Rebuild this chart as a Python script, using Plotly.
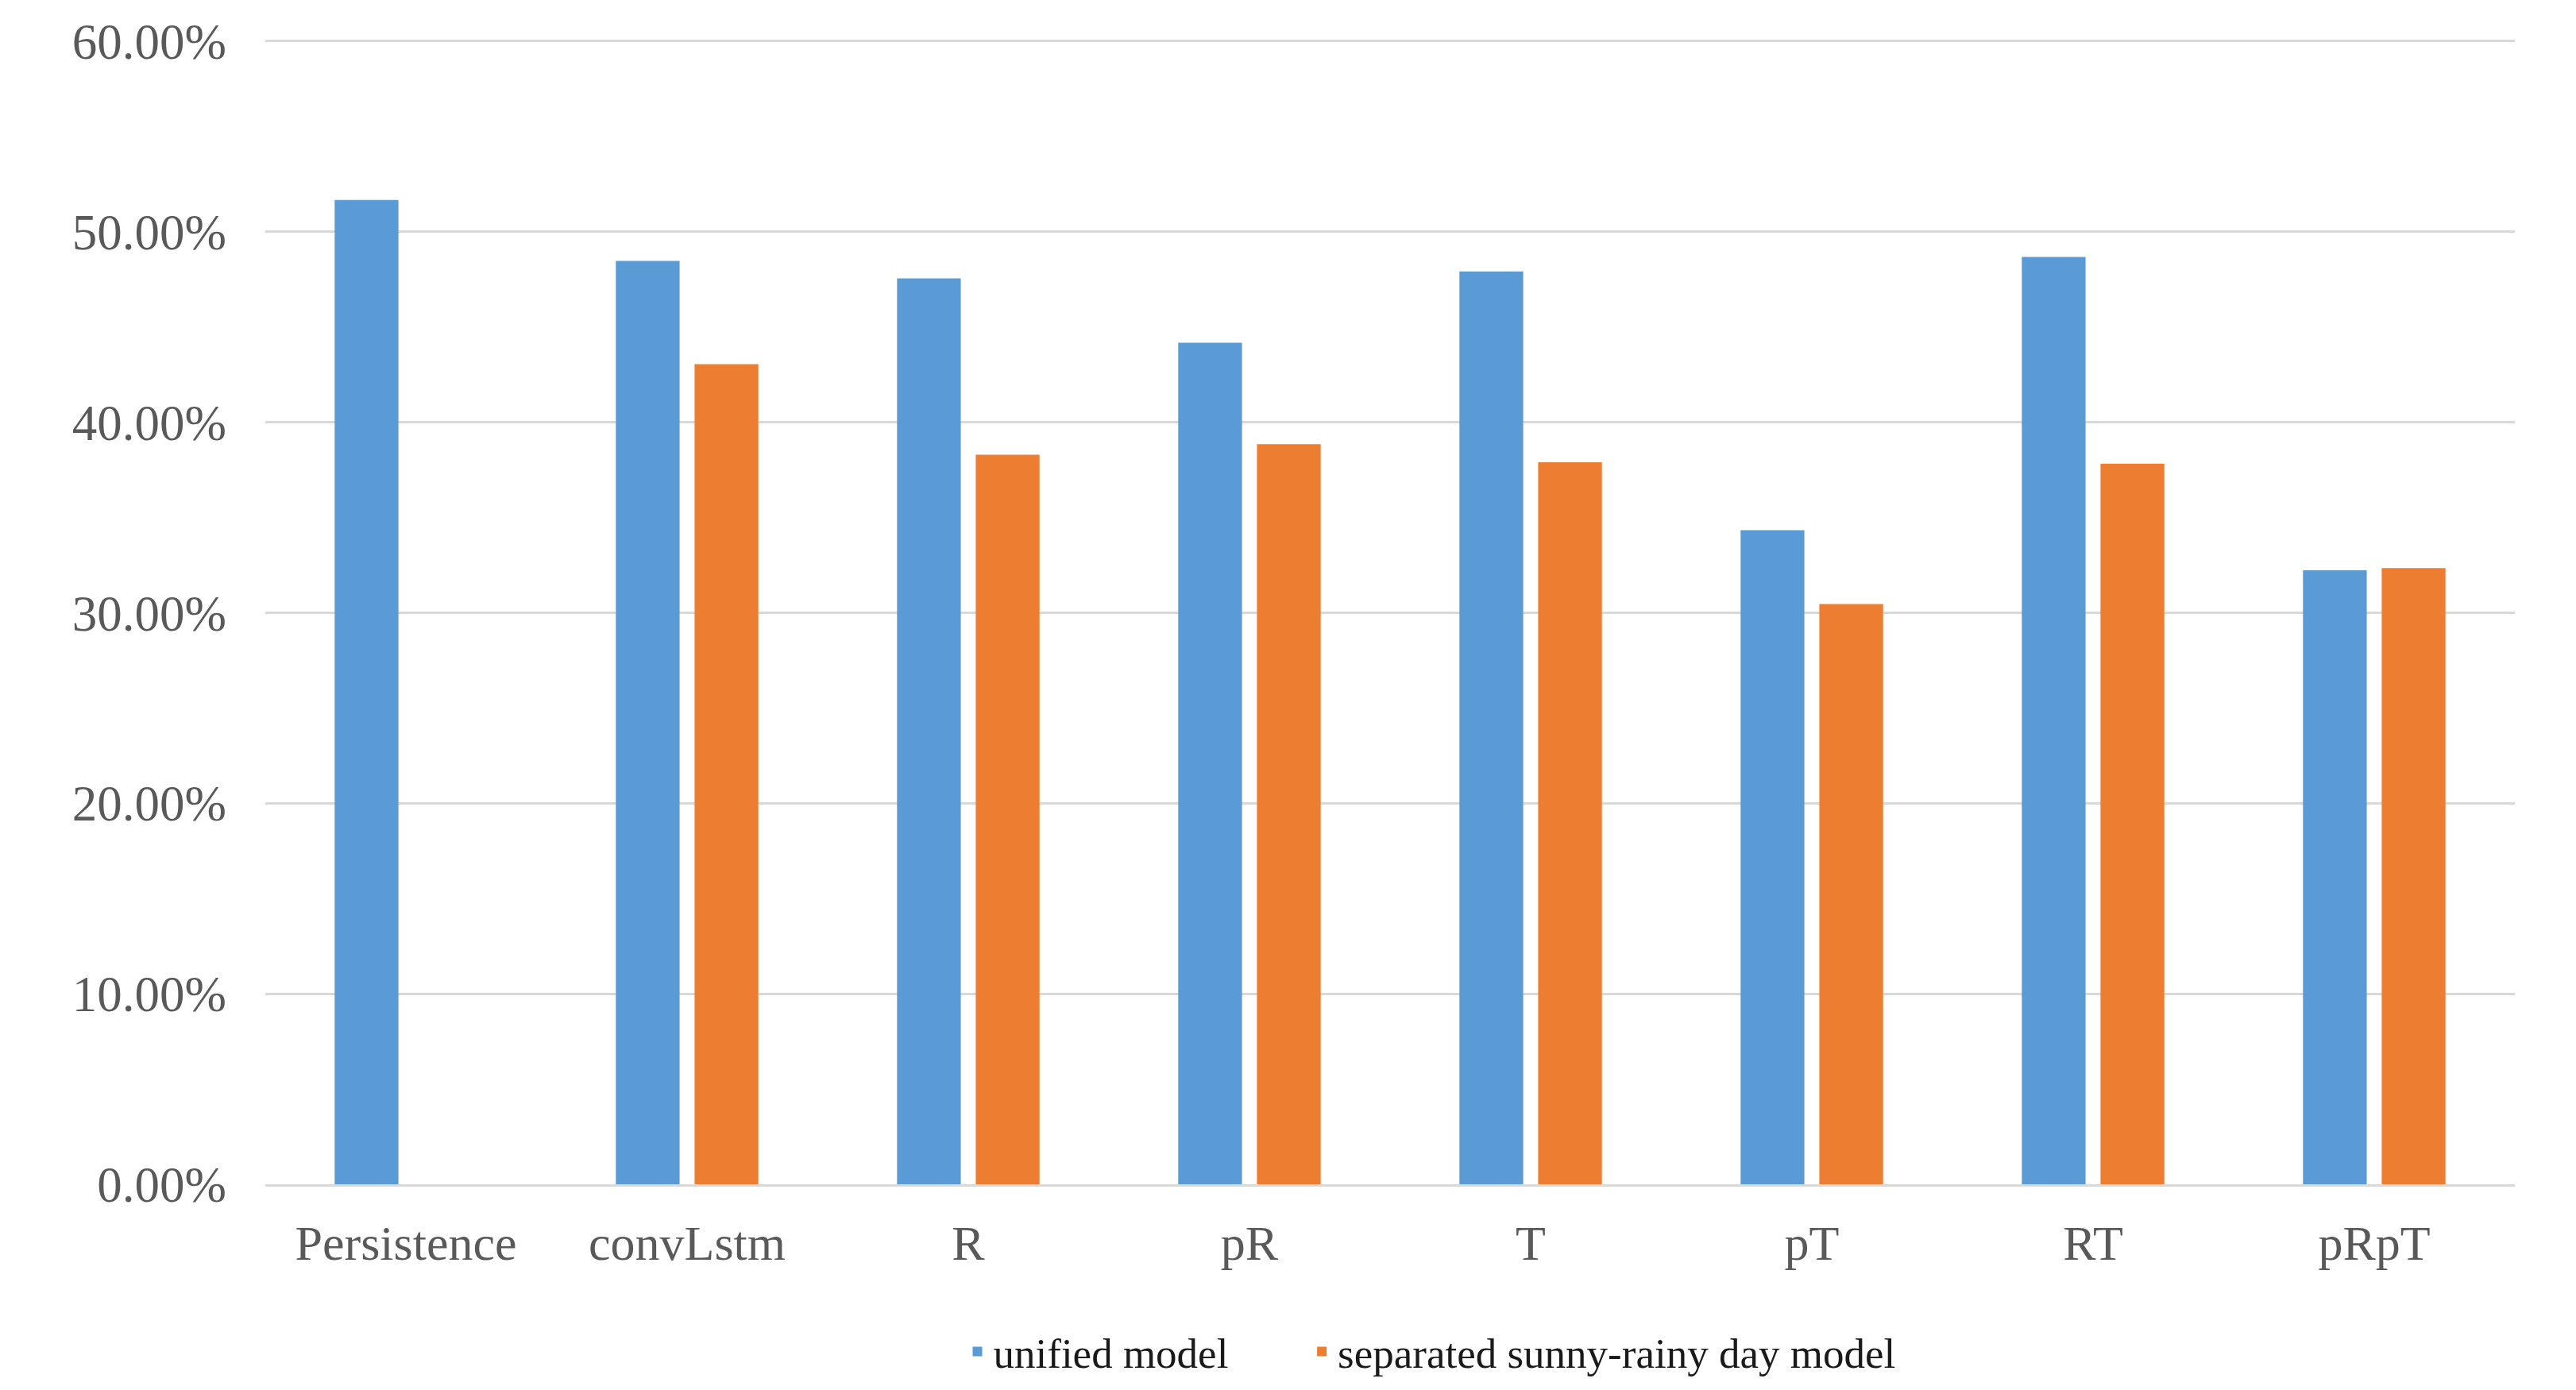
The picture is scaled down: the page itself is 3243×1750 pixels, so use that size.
import plotly.graph_objects as go

categories = ["Persistence", "convLstm", "R", "pR", "T", "pT", "RT", "pRpT"]
unified = [0.5167, 0.4847, 0.4755, 0.4417, 0.4791, 0.3433, 0.4868, 0.3223]
separated = [None, 0.4305, 0.3829, 0.3885, 0.3790, 0.3046, 0.3782, 0.3234]
series_names = ["unified model", "separated sunny-rainy day model"]
y_ticks = [0, 0.1, 0.2, 0.3, 0.4, 0.5, 0.6]

FONT = "Liberation Serif"
PAD = "\u00a0" * 7  # extra spacing between legend entries

fig = go.Figure()
fig.add_trace(go.Bar(x=categories, y=unified, name=series_names[0] + PAD,
                     marker=dict(color="#5B9BD5", line=dict(width=0))))
fig.add_trace(go.Bar(x=categories, y=separated, name=series_names[1],
                     marker=dict(color="#ED7D31", line=dict(width=0))))

fig.update_layout(
    width=3243, height=1750,
    paper_bgcolor="white", plot_bgcolor="white",
    margin=dict(l=326, r=85, t=41, b=267, autoexpand=False),
    barmode="group", bargap=0.44, bargroupgap=0.19,
    font=dict(family=FONT, size=62, color="#595959"),
    showlegend=True,
    legend=dict(orientation="h", x=0.3095, xanchor="left", y=-0.146, yanchor="middle",
                font=dict(family=FONT, size=53, color="#1a1a1a"),
                itemwidth=30),
    xaxis=dict(showgrid=False, showline=True, linecolor="#d9d9d9", linewidth=3,
               ticks="", tickfont=dict(size=62, color="#595959"), ticklabelstandoff=18),
    yaxis=dict(range=[0, 0.6012], tickvals=y_ticks, tickformat=".2%",
               showgrid=True, gridcolor="#d9d9d9", gridwidth=3,
               zeroline=False, showline=False, ticks="",
               tickfont=dict(size=63, color="#595959"), ticklabelstandoff=48),
)

fig.write_html("out.html")
